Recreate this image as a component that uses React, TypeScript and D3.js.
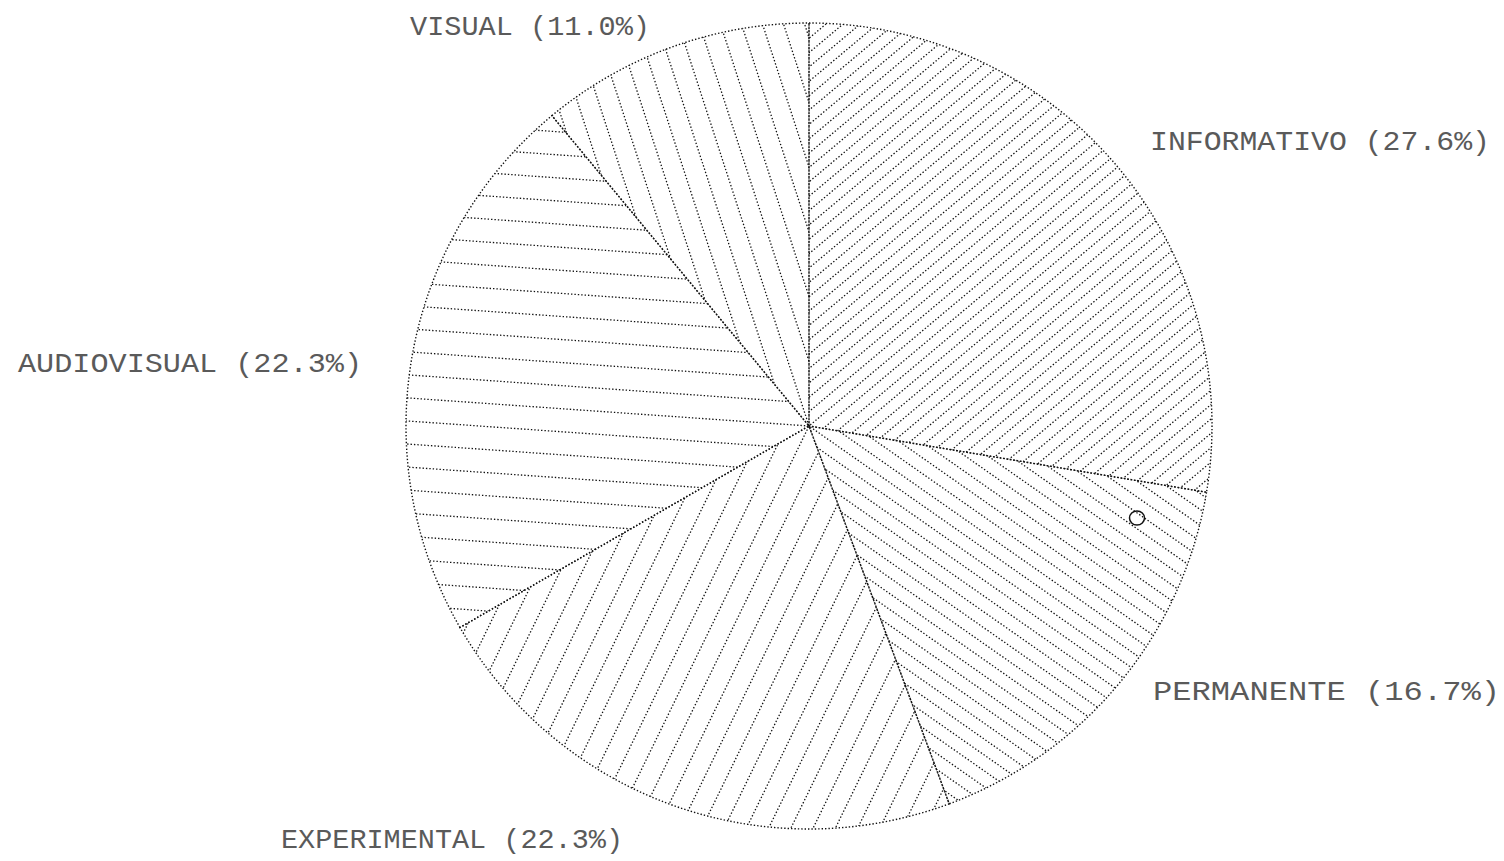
import React from 'react'
import * as d3 from 'd3'

const width = 1504
const height = 861

const categories = ['INFORMATIVO', 'PERMANENTE', 'EXPERIMENTAL', 'AUDIOVISUAL', 'VISUAL']
const shares = [27.6, 16.7, 22.3, 22.3, 11.0]

// hatch direction (degrees, screen space) and spacing per slice
const hatchAngles = [-40, 35, -64, 4, 72]
const hatchGaps = [11, 13, 20, 23, 20]

// where each label sits: [x start, baseline, width]
const labelPos: [number, number, number][] = [
  [1150, 150, 340],
  [1153, 700, 347],
  [281, 848, 342],
  [18, 372, 344],
  [410, 35, 240],
]

const cx = 809
const cy = 426
const r = 403

const dots = '1.4 2'
const ink = '#111'

const App = () => {
  const arcs = d3.pie<number>().sort(null).value(d => d)(shares)
  const arc = d3.arc<d3.PieArcDatum<number>>().innerRadius(0).outerRadius(r)

  const hatch = (i: number) => {
    const a = (hatchAngles[i] * Math.PI) / 180
    const gap = hatchGaps[i]
    const dx = Math.cos(a)
    const dy = Math.sin(a)
    const nx = -dy
    const ny = dx
    const n = Math.ceil(r / gap)
    return d3.range(-n, n + 1).map(k => {
      const p = k * gap
      return {
        x1: cx + nx * p - dx * r,
        y1: cy + ny * p - dy * r,
        x2: cx + nx * p + dx * r,
        y2: cy + ny * p + dy * r,
      }
    })
  }

  return (
    <svg width={width} height={height} style={{ position: 'absolute', left: 0, top: 0, background: '#fff' }}>
      <defs>
        {arcs.map((d, i) => (
          <clipPath id={`slice-${i}`} key={i}>
            <path d={arc(d) as string} transform={`translate(${cx},${cy})`} />
          </clipPath>
        ))}
      </defs>
      {arcs.map((d, i) => (
        <g key={i}>
          <g clipPath={`url(#slice-${i})`}>
            {hatch(i).map((l, j) => (
              <line key={j} {...l} stroke={ink} strokeWidth={1.3} strokeDasharray={dots} />
            ))}
          </g>
          <path
            d={arc(d) as string}
            transform={`translate(${cx},${cy})`}
            fill="none"
            stroke={ink}
            strokeWidth={1.4}
            strokeDasharray={dots}
          />
        </g>
      ))}
      <ellipse cx={1137} cy={518} rx={7.5} ry={7} fill="none" stroke="#111" strokeWidth={1.5} />
      {categories.map((c, i) => (
        <text
          key={c}
          x={labelPos[i][0]}
          y={labelPos[i][1]}
          textLength={labelPos[i][2]}
          lengthAdjust="spacingAndGlyphs"
          fontFamily="Liberation Mono, DejaVu Sans Mono, monospace"
          fontSize={27}
          fill="#5a5a5a"
        >
          {`${c} (${shares[i].toFixed(1)}%)`}
        </text>
      ))}
    </svg>
  )
}

export default App
